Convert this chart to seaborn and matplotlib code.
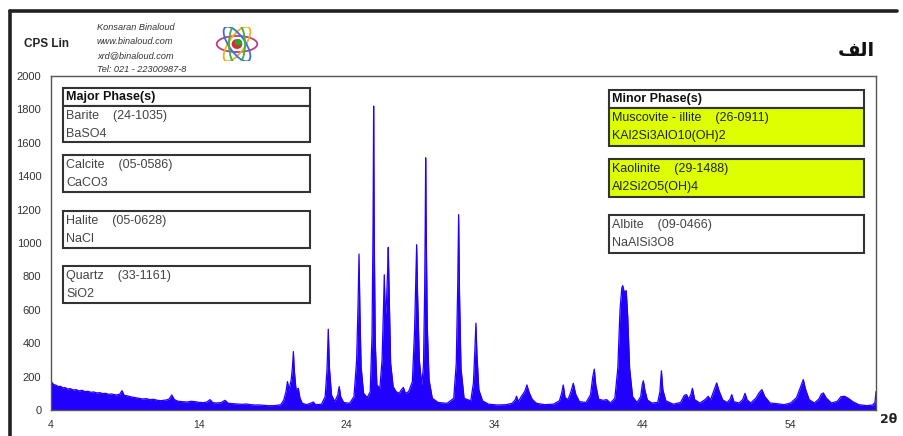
import matplotlib
matplotlib.use("Agg")
import matplotlib.pyplot as plt
from matplotlib.patches import Rectangle, Ellipse
from matplotlib.lines import Line2D
from matplotlib.ticker import MultipleLocator, FixedLocator
import pandas as pd
import seaborn as sns

# ---------------- data ----------------
two_theta = [
    4.00, 4.10, 4.20, 4.35, 4.50, 4.65, 4.80, 4.95, 5.10, 5.30, 5.50, 5.70, 5.90,
    6.10, 6.30, 6.50, 6.70, 6.90, 7.10, 7.30, 7.50, 7.70, 7.90, 8.10, 8.40, 8.65,
    8.80, 8.95, 9.20, 9.45, 9.70, 9.95, 10.20, 10.45, 10.70, 10.95, 11.20, 11.45,
    11.80, 12.00, 12.17, 12.35, 12.60, 12.90, 13.20, 13.50, 13.75, 14.00, 14.30,
    14.55, 14.76, 14.95, 15.20, 15.50, 15.77, 16.00, 16.30, 16.60, 16.90, 17.20,
    17.50, 17.80, 18.10, 18.40, 18.70, 19.00, 19.30, 19.55,
    19.75, 19.90, 20.00, 20.10, 20.25, 20.34, 20.40, 20.46, 20.58, 20.73, 20.85,
    21.00, 21.30, 21.60, 21.75, 21.90, 22.30, 22.55, 22.68, 22.76, 22.84, 22.98,
    23.20, 23.40, 23.50, 23.60, 23.80, 24.20, 24.50, 24.68, 24.78, 24.84, 24.90,
    24.98, 25.15, 25.40, 25.60, 25.72, 25.79, 25.83, 25.87, 25.94, 26.05, 26.25,
    26.40, 26.50, 26.55, 26.62, 26.70, 26.77, 26.82, 26.88, 26.98, 27.15, 27.35,
    27.55, 27.70, 27.84, 27.98, 28.20, 28.45, 28.60, 28.68, 28.74, 28.80, 28.92,
    29.08, 29.20, 29.28, 29.32, 29.35, 29.39, 29.46, 29.58, 29.80, 30.20, 30.80,
    31.25, 31.42, 31.52, 31.58, 31.64, 31.74, 31.95, 32.40, 32.58, 32.68, 32.75,
    32.82, 32.95, 33.20, 33.60, 34.20, 34.80, 35.20, 35.40, 35.50, 35.62, 35.85,
    36.05, 36.20, 36.35, 36.55, 36.85, 37.40, 38.00, 38.40, 38.55, 38.66, 38.78,
    38.98, 39.18, 39.34, 39.50, 39.75, 40.20, 40.50, 40.66, 40.76, 40.86, 41.05,
    41.35, 41.60, 41.85, 42.15, 42.35, 42.50, 42.62, 42.68, 42.76, 42.84, 42.92,
    43.02, 43.15, 43.35, 43.65, 43.90, 44.00, 44.08, 44.18, 44.35, 44.65, 45.05,
    45.20, 45.30, 45.40, 45.60, 46.10, 46.60, 46.85, 47.00, 47.15, 47.30, 47.40,
    47.55, 47.90, 48.25, 48.47, 48.62, 48.85, 49.04, 49.20, 49.45, 49.75, 49.95,
    50.06, 50.20, 50.55, 50.80, 50.96, 51.10, 51.35, 51.70, 51.90, 52.10, 52.30,
    52.65, 53.10, 53.60, 54.05, 54.45, 54.70, 54.90, 55.05, 55.30, 55.65, 55.95,
    56.12, 56.26, 56.45, 56.80, 57.20, 57.45, 57.70, 57.95, 58.25, 58.65, 59.20,
    59.60, 59.75, 59.82,
]
counts = [
    172, 160, 152, 148, 140, 142, 132, 135, 126, 128, 120, 122, 114,
    118, 110, 112, 106, 108, 102, 104, 98, 100, 94, 96, 90, 94,
    116, 88, 84, 78, 74, 70, 66, 68, 62, 64, 58, 56,
    60, 66, 90, 62, 52, 50, 48, 52, 50, 46, 44,
    48, 62, 44, 42, 44, 58, 40, 38, 36, 34, 36,
    32, 30, 30, 28, 26, 26, 28, 32,
    60, 110, 170, 120, 180, 260, 350, 240, 120, 130, 70,
    40, 32, 42, 48, 32, 34, 80, 250, 484, 250, 90,
    50, 90, 140, 80, 45, 40, 80, 300, 650, 934, 600,
    260, 100, 75, 110, 450, 1100, 1820, 1050, 400, 150, 130,
    300, 620, 810, 560, 650, 820, 974, 700, 280, 140, 110,
    100, 120, 135, 100, 110, 170, 480, 780, 990, 700, 300,
    150, 260, 700, 1100, 1510, 1050, 500, 180, 70, 45, 40,
    70, 280, 750, 1170, 700, 250, 70, 55, 160, 360, 520,
    330, 120, 55, 35, 30, 32, 40, 60, 82, 50, 85,
    110, 150, 105, 65, 40, 32, 35, 55, 100, 150, 75,
    62, 110, 160, 95, 50, 45, 90, 200, 245, 150, 65,
    58, 62, 42, 70, 250, 600, 730, 745, 715, 705, 715,
    560, 250, 80, 45, 80, 150, 175, 120, 60, 42, 45,
    110, 235, 120, 55, 35, 45, 88, 92, 65, 95, 130,
    62, 42, 62, 82, 60, 115, 162, 115, 60, 45, 65,
    92, 50, 42, 62, 100, 60, 42, 72, 102, 122, 80,
    42, 38, 32, 42, 75, 135, 182, 125, 62, 42, 65,
    95, 102, 72, 42, 52, 80, 82, 70, 50, 32, 26,
    30, 45, 110,
]

x_tick_values = [4, 14, 24, 34, 44, 54]
y_tick_values = [0, 200, 400, 600, 800, 1000, 1200, 1400, 1600, 1800, 2000]

major_header = "Major Phase(s)"
major_names = ["Barite", "Calcite", "Halite", "Quartz"]
major_codes = ["(24-1035)", "(05-0586)", "(05-0628)", "(33-1161)"]
major_formulas = ["BaSO4", "CaCO3", "NaCl", "SiO2"]

minor_header = "Minor Phase(s)"
minor_names = ["Muscovite - illite", "Kaolinite", "Albite"]
minor_codes = ["(26-0911)", "(29-1488)", "(09-0466)"]
minor_formulas = ["KAl2Si3AlO10(OH)2", "Al2Si2O5(OH)4", "NaAlSi3O8"]
minor_highlight = [True, True, False]

lab_lines = ["Konsaran Binaloud", "www.binaloud.com", "xrd@binaloud.com",
             "Tel: 021 - 22300987-8"]
y_axis_title = "CPS Lin"
x_axis_title = "2θ"
panel_title = "\uFED2\uFEDF\uFE8D"   # "الف" in presentation forms (visual order)

# ---------------- styling ----------------
sns.set_theme(style="white")
plt.rcParams["font.family"] = ["Liberation Sans", "DejaVu Sans"]

W, H = 904, 436
fig = plt.figure(figsize=(W / 100, H / 100), dpi=100)
fig.patch.set_facecolor("white")


def fx(px):
    return px / W


def fy(py):
    return 1 - py / H


ax = fig.add_axes([fx(51), fy(410), (876 - 51) / W, (410 - 76) / H])

df = pd.DataFrame({"two_theta": two_theta, "counts": counts})
blue = "#2200ff"
sns.lineplot(data=df, x="two_theta", y="counts", ax=ax, color=blue,
             linewidth=0.9, estimator=None, sort=False)
ax.fill_between(df["two_theta"], 0, df["counts"], color=blue, linewidth=0)

ax.set_xlim(4, 59.82)
ax.set_ylim(0, 2000)
ax.set_xlabel("")
ax.set_ylabel("")
ax.xaxis.set_major_locator(FixedLocator(x_tick_values))
ax.xaxis.set_minor_locator(MultipleLocator(5, offset=4))
ax.yaxis.set_major_locator(FixedLocator(y_tick_values))
ax.yaxis.set_minor_locator(MultipleLocator(40))
ax.tick_params(axis="both", which="both", direction="in", colors="#555555",
               labelcolor="#333333", width=0.6)
ax.tick_params(axis="both", which="major", length=3)
ax.tick_params(axis="both", which="minor", length=2)
ax.tick_params(axis="y", labelsize=8, pad=7)
ax.tick_params(axis="x", labelsize=7.5, pad=7)
for lab in ax.get_xticklabels():
    lab.set_family(["Liberation Sans Narrow", "Liberation Sans"])
for sp in ax.spines.values():
    sp.set_visible(True)
    sp.set_color("#555555")
    sp.set_linewidth(1.0)

# outer frame (top, left)
frame_kw = dict(color="#222222", linewidth=2.6, transform=fig.transFigure)
fig.add_artist(Line2D([fx(10), fx(10)], [fy(11), fy(440)], **frame_kw))
fig.add_artist(Line2D([fx(10), fx(897)], [fy(11), fy(11)], **frame_kw))

# header texts
fig.text(fx(46), fy(44), y_axis_title, fontsize=8.5, fontweight="bold",
         ha="center", va="center", color="#222222")
for i, line in enumerate(lab_lines):
    fig.text(fx(97), fy(27 + 14.3 * i), line, fontsize=6.6, style="italic",
             ha="left", va="center", color="#333333")
fig.text(fx(856), fy(50), panel_title, fontsize=14, fontweight="bold",
         family=["DejaVu Sans"], ha="center", va="center", color="#111111")
fig.text(fx(889), fy(419), x_axis_title, fontsize=9, fontweight="bold",
         family=["DejaVu Sans"], ha="center", va="center", color="#222222")

# logo (decorative atom)
lax = fig.add_axes([fx(215), fy(61), 44 / W, 34 / H])
lax.set_xlim(-1.3, 1.3)
lax.set_ylim(-1.0, 1.0)
lax.axis("off")
for ang, col in [(0, "#c03a8a"), (55, "#f0b020"), (-55, "#3a6ee0"), (90, "#40b040")]:
    lax.add_patch(Ellipse((0, 0), 2.4, 0.95, angle=ang, fill=False,
                          edgecolor=col, linewidth=1.3))
lax.add_patch(Ellipse((0, 0), 0.55, 0.5, color="#d03030"))
lax.add_patch(Ellipse((0.08, 0.1), 0.35, 0.3, color="#30a030"))


# phase boxes
def box(x0, y0, x1, y1, face="white"):
    fig.add_artist(Rectangle((fx(x0), fy(y1)), (x1 - x0) / W, (y1 - y0) / H,
                             transform=fig.transFigure, facecolor=face,
                             edgecolor="#333333", linewidth=1.5, zorder=5))


def label(x, y, s, bold=False, color="#444444"):
    fig.text(fx(x), fy(y), s, fontsize=9, ha="left", va="center",
             fontweight="bold" if bold else "normal", color=color, zorder=6)


yellow = "#ddff00"

# major phases
mx0, mx1 = 63, 310
box(mx0, 88, mx1, 106)
label(mx0 + 3, 97, major_header, bold=True, color="#111111")
major_tops = [106, 155, 211, 266]
for i, top in enumerate(major_tops):
    bottom = top + (36 if i == 0 else 37)
    box(mx0, top, mx1, bottom)
    label(mx0 + 3, top + 10, major_names[i] + "    " + major_codes[i])
    label(mx0 + 3, top + 28, major_formulas[i])

# minor phases
nx0, nx1 = 609, 864
box(nx0, 90, nx1, 108)
label(nx0 + 3, 99, minor_header, bold=True, color="#111111")
minor_tops = [108, 159, 215]
for i, top in enumerate(minor_tops):
    bottom = top + 38
    box(nx0, top, nx1, bottom, face=yellow if minor_highlight[i] else "white")
    col = "#222222" if minor_highlight[i] else "#444444"
    label(nx0 + 3, top + 10, minor_names[i] + "    " + minor_codes[i], color=col)
    label(nx0 + 3, top + 28, minor_formulas[i], color=col)

fig.savefig("out.png", dpi=100, facecolor="white")
